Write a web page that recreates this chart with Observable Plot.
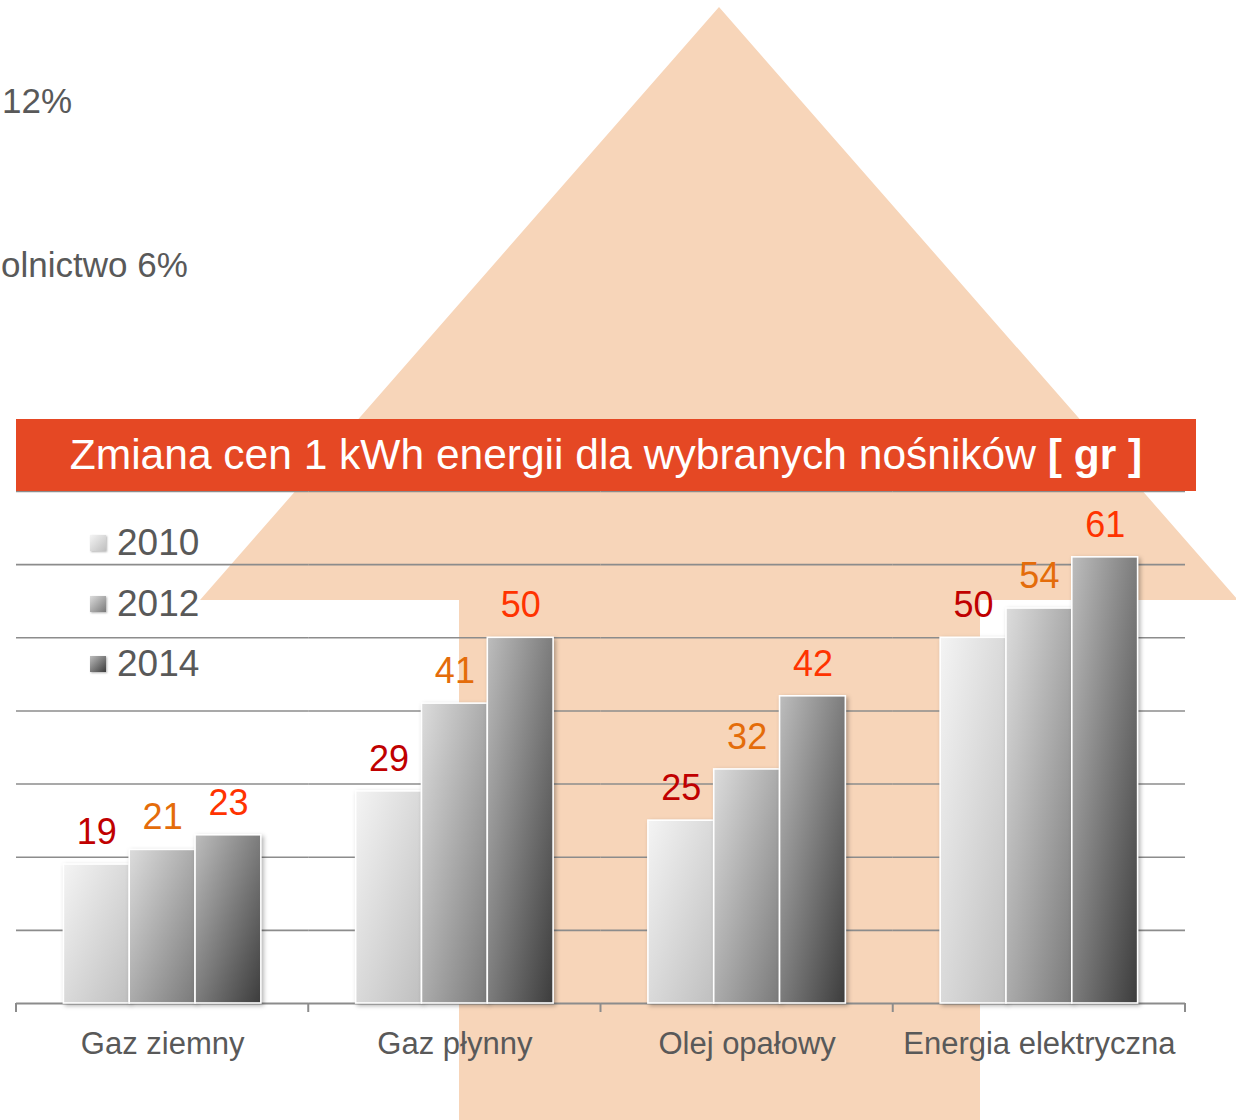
<!DOCTYPE html>
<html>
<head>
<meta charset="utf-8">
<script src="https://cdn.jsdelivr.net/npm/d3@7"></script>
<script src="https://cdn.jsdelivr.net/npm/@observablehq/plot@0.6"></script>
<style>
  body { margin: 0; background: #fff; font-family: "Liberation Sans", Arial, sans-serif; }
  #stage { position: relative; width: 1236px; height: 1120px; overflow: hidden; background: #fff; }
  #bg, #chart { position: absolute; left: 0; top: 0; }
  .note { position: absolute; font-size: 35px; color: #595959; white-space: nowrap; line-height: 1; }
  #banner { position: absolute; left: 16px; top: 419px; width: 1180px; height: 72px; background: #E54824;
            color: #fff; font-size: 42.5px; display: flex; align-items: center; justify-content: center; white-space: nowrap; }
  .lg { position: absolute; left: 90px; height: 40px; display: flex; align-items: center; font-size: 37px;
        color: #595959; white-space: nowrap; }
  .sw { width: 16px; height: 16px; margin-right: 11px; box-shadow: 1px 1px 2px rgba(0,0,0,.3); }
  #chart g[aria-label="bar"] rect { filter: drop-shadow(2px 2px 2px rgba(0,0,0,0.3)); }
</style>
</head>
<body>
<svg width="0" height="0" style="position:absolute">
  <defs>
    <linearGradient id="grad2010" x1="0" y1="0" x2="1" y2="1">
      <stop offset="0" stop-color="#f4f4f4"/><stop offset="1" stop-color="#bfbfbf"/>
    </linearGradient>
    <linearGradient id="grad2012" x1="0" y1="0" x2="1" y2="1">
      <stop offset="0" stop-color="#dcdcdc"/><stop offset="1" stop-color="#7a7a7a"/>
    </linearGradient>
    <linearGradient id="grad2014" x1="0" y1="0" x2="1" y2="1">
      <stop offset="0" stop-color="#bdbdbd"/><stop offset="1" stop-color="#3c3c3c"/>
    </linearGradient>
  </defs>
</svg>
<div id="stage">
  <svg id="bg" width="1236" height="1120">
    <polygon points="719,7 1238,600 980,600 980,1130 459,1130 459,600 200,600" fill="#F7D5B9"/>
  </svg>
  <div class="note" style="left:2px; top:83px;">12%</div>
  <div class="note" style="left:1px; top:247px;">olnictwo&nbsp;6%</div>
  <div id="chart"></div>
  <div id="banner"><span>Zmiana cen 1 kWh energii dla wybranych nośników&nbsp;<b>[ gr ]</b></span></div>
  <div id="legend"></div>
</div>
<script>
const categories = ["Gaz ziemny", "Gaz płynny", "Olej opałowy", "Energia elektryczna"];
const years = ["2010", "2012", "2014"];
const values2010 = [19, 29, 25, 50];
const values2012 = [21, 41, 32, 54];
const values2014 = [23, 50, 42, 61];
const yTicks = [10, 20, 30, 40, 50, 60, 70];
const labelColors = ["#C00000", "#E46C0A", "#FF3300"];
const legendGradients = [
  "linear-gradient(135deg,#f4f4f4,#bfbfbf)",
  "linear-gradient(135deg,#dcdcdc,#7a7a7a)",
  "linear-gradient(135deg,#bdbdbd,#3c3c3c)"
];

const series = [values2010, values2012, values2014];
const rows = [];
years.forEach((yr, i) => categories.forEach((c, j) => rows.push({cat: c, year: yr, value: series[i][j]})));

const plot = Plot.plot({
  width: 1236,
  height: 1120,
  marginLeft: 16,
  marginRight: 51,
  marginTop: 491,
  marginBottom: 117,
  style: {background: "transparent", fontFamily: "Liberation Sans, Arial, sans-serif", overflow: "visible"},
  fx: {domain: categories, padding: 0, round: false, axis: null},
  x: {domain: years, paddingInner: 0, paddingOuter: 0.72, round: false, axis: null},
  y: {domain: [0, 70], axis: null},
  marks: [
    Plot.ruleY(yTicks, {stroke: "#8c8c8c", strokeWidth: 1.6}),
    Plot.ruleY([0], {stroke: "#8c8c8c", strokeWidth: 2}),
    ...years.map(yr => Plot.barY(rows.filter(d => d.year === yr), {
      fx: "cat", x: "year", y: "value", fill: `url(#grad${yr})`, stroke: "#fff", strokeWidth: 1.6
    })),
    ...years.map((yr, i) => Plot.text(rows.filter(d => d.year === yr), {
      fx: "cat", x: "year", y: "value", text: d => String(d.value), dy: -32,
      fill: labelColors[i], fontSize: 36
    })),
    Plot.text(categories, {
      fx: d => d, text: d => d, frameAnchor: "bottom", dy: 50, fontSize: 31, fill: "#595959"
    })
  ]
});
document.getElementById("chart").appendChild(plot);

// axis tick marks at category boundaries
const fxs = plot.scale("fx");
const ys = plot.scale("y");
const y0 = ys.apply(0);
const edges = categories.map(c => fxs.apply(c));
edges.push(fxs.apply(categories[categories.length - 1]) + fxs.bandwidth);
d3.select(plot).append("g").selectAll("line").data(edges).join("line")
  .attr("x1", d => d).attr("x2", d => d)
  .attr("y1", y0).attr("y2", y0 + 9)
  .attr("stroke", "#8c8c8c").attr("stroke-width", 2);

// legend
const legendTops = [523, 584, 644];
const lg = document.getElementById("legend");
years.forEach((yr, i) => {
  const row = document.createElement("div");
  row.className = "lg";
  row.style.top = legendTops[i] + "px";
  row.innerHTML = `<div class="sw" style="background:${legendGradients[i]}"></div><span>${yr}</span>`;
  lg.appendChild(row);
});
</script>
</body>
</html>
